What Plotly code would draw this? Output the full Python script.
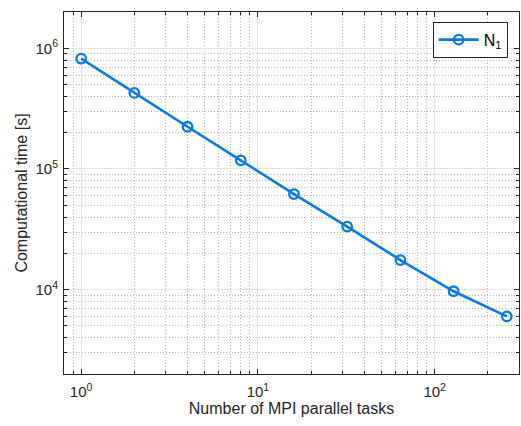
import numpy as np
import plotly.graph_objects as go

# Strong-scaling run: wall time versus number of MPI tasks
tasks = [1, 2, 4, 8, 16, 32, 64, 128, 256]
time_n1 = [8.2e5, 4.27e5, 2.24e5, 1.18e5, 6.2e4, 3.33e4, 1.76e4, 9.7e3, 6.0e3]

x_ticks = [1, 10, 100]
x_ticktext = ["10<sup>0</sup>", "10<sup>1</sup>", "10<sup>2</sup>"]
y_ticks = [1e4, 1e5, 1e6]
y_ticktext = ["10<sup>4</sup>", "10<sup>5</sup>", "10<sup>6</sup>"]

blue = "#0A7AF0"
axis_col = "#262626"
font_family = "Liberation Sans, Arial, Helvetica, sans-serif"

fig = go.Figure()
fig.add_trace(go.Scatter(
    x=tasks, y=time_n1, mode="lines+markers", name="N<sub>1</sub>",
    line=dict(color=blue, width=2.6),
    marker=dict(symbol="circle-open", size=9.5, color=blue, line=dict(width=2.3, color=blue)),
))

def axis_style(**kw):
    d = dict(
        type="log",
        showline=True, linecolor=axis_col, linewidth=1, mirror="ticks",
        ticks="inside", ticklen=5, tickcolor=axis_col, tickwidth=1,
        showgrid=True, gridcolor="#e3e3e3", gridwidth=1,
        zeroline=False,
        tickfont=dict(family=font_family, size=15, color=axis_col),
        minor=dict(ticks="inside", ticklen=3, tickcolor=axis_col, dtick="D1",
                   showgrid=True, gridcolor="#b8b8b8", griddash="1px,2px", gridwidth=1),
    )
    d.update(kw)
    return d

fig.update_layout(
    width=521, height=426,
    margin=dict(l=64, r=2, t=12, b=52),
    paper_bgcolor="white", plot_bgcolor="white",
    font=dict(family=font_family, color=axis_col),
    xaxis=axis_style(
        range=[np.log10(0.8), np.log10(300)],
        tickvals=x_ticks, ticktext=x_ticktext, ticklabelstandoff=4,
        title=dict(text="Number of MPI parallel tasks", font=dict(size=16, color=axis_col), standoff=3),
    ),
    yaxis=axis_style(
        range=[np.log10(2e3), np.log10(2e6)],
        tickvals=y_ticks, ticktext=y_ticktext, ticklabelstandoff=2,
        title=dict(text="Computational time [s]", font=dict(size=16, color=axis_col), standoff=3),
    ),
    legend=dict(
        x=0.975, y=0.973, xanchor="right", yanchor="top",
        bgcolor="white", bordercolor=axis_col, borderwidth=1,
        font=dict(family=font_family, size=16, color="black"),
        itemwidth=40,
    ),
    showlegend=True,
)

fig.write_html("out.html")
